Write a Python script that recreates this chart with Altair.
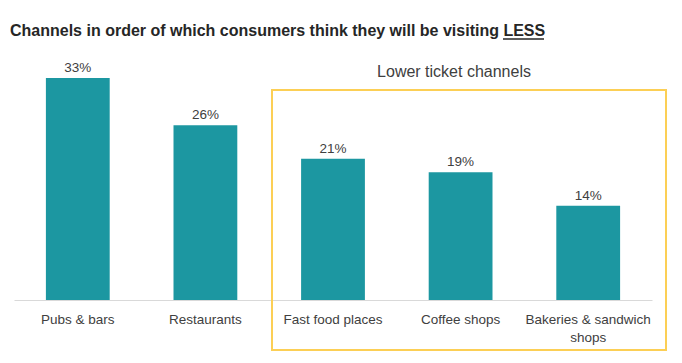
import altair as alt
import pandas as pd

categories = ["Pubs & bars", "Restaurants", "Fast food places", "Coffee shops",
              "Bakeries & sandwich shops"]
values = [33, 26, 21, 19, 14]
value_labels = ["33%", "26%", "21%", "19%", "14%"]

title_text = "Channels in order of which consumers think they will be visiting LESS"
group_text = "Lower ticket channels"

FONT = "Liberation Sans"
TEAL = "#1C97A1"
GOLD = "#FCCF55"
TXT = "#404040"

df = pd.DataFrame({"channel": categories, "share": values, "label": value_labels})

x_enc = alt.X(
    "channel:N",
    sort=categories,
    scale=alt.Scale(paddingInner=0.5, paddingOuter=0.25),
    axis=alt.Axis(
        title=None, ticks=False, labelAngle=0, labelFontSize=13.5,
        labelColor=TXT, labelFont=FONT, labelPadding=12,
        domainColor="#D9D9D9", domainWidth=1, labelOverlap=False,
        labelLimit=220, labelLineHeight=18,
        labelExpr="datum.label == 'Bakeries & sandwich shops' ? ['Bakeries & sandwich', 'shops'] : datum.label",
    ),
)
y_enc = alt.Y("share:Q", scale=alt.Scale(domain=[0, 40]), axis=None)

box = alt.Chart(pd.DataFrame({"k": [0]})).mark_rect(
    fill="transparent", stroke=GOLD, strokeWidth=2
).encode(x=alt.value(258), x2=alt.value(652), y=alt.value(59), y2=alt.value(319))

bars = alt.Chart(df).mark_bar(color=TEAL).encode(x=x_enc, y=y_enc)

pct = alt.Chart(df).mark_text(
    baseline="alphabetic", dy=-6, fontSize=13.5, color=TXT, font=FONT
).encode(x=alt.X("channel:N", sort=categories), y="share:Q", text="label:N")

title = alt.Chart(pd.DataFrame({"t": [title_text]})).mark_text(
    align="left", baseline="alphabetic", fontSize=16, fontWeight="bold",
    color="#262626", font=FONT
).encode(x=alt.value(-4), y=alt.value(5), text="t:N")

underline = alt.Chart(pd.DataFrame({"k": [0]})).mark_rule(
    color="#262626", strokeWidth=1.3
).encode(x=alt.value(489), x2=alt.value(530), y=alt.value(8))

group = alt.Chart(pd.DataFrame({"t": [group_text]})).mark_text(
    align="center", baseline="alphabetic", fontSize=16, color=TXT, font=FONT
).encode(x=alt.value(440), y=alt.value(46), text="t:N")

chart = alt.layer(box, bars, pct, title, underline, group).properties(
    width=638, height=269,
    autosize=alt.AutoSizeParams(type="none"),
    padding={"left": 6, "top": 23, "right": 16, "bottom": 55},
    background="white",
).configure_view(stroke=None)

chart.save("out.html", embed_options={"renderer": "svg", "actions": False})
